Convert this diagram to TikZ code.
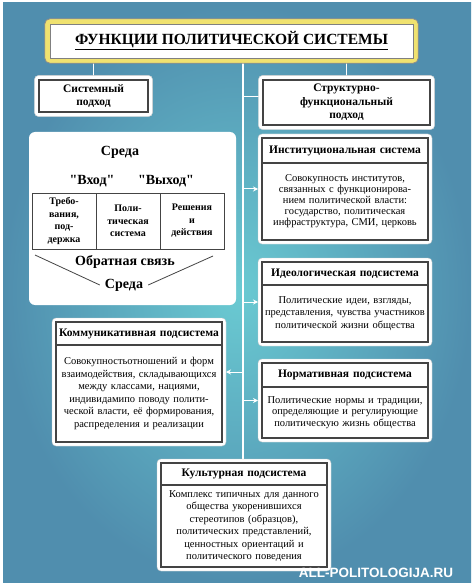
\documentclass[tikz,border=0pt]{standalone}
\usepackage{fontspec}
\setmainfont{Liberation Serif}[Ligatures=TeXOff]
\newfontfamily\sitefont{Liberation Sans}
\usetikzlibrary{positioning,arrows.meta,backgrounds,calc}

\definecolor{fondoclaro}{RGB}{106,202,210}
\definecolor{fondooscuro}{RGB}{80,142,174}
\definecolor{amarillo}{RGB}{240,226,112}
\definecolor{borde}{RGB}{68,68,68}

\begin{document}
\begin{tikzpicture}[x=1pt, y=-1pt]

% Tamaño del dibujo
\useasboundingbox (0,0) rectangle (474,585);

% Estilos de cajas y textos
\tikzstyle{titulo}=[draw=black!50, fill=white, minimum width=363pt, minimum height=34pt, font=\bfseries\fontsize{15.5}{18}\selectfont]
\tikzstyle{enfoque}=[draw=borde, line width=1.1pt, fill=white, align=center, font=\bfseries\fontsize{11.5}{13.5}\selectfont]
\tikzstyle{cabeza}=[draw=borde, line width=1.1pt, fill=white, outer sep=0pt, inner xsep=3pt, text width=160pt, align=center, font=\bfseries\fontsize{11.5}{13}\selectfont]
\tikzstyle{cuerpo}=[cabeza, font=\fontsize{10.5}{12.2}\selectfont]
\tikzstyle{panel}=[fill=white, rounded corners=6pt, minimum width=207pt, minimum height=173pt]
\tikzstyle{celda}=[draw=borde, line width=0.9pt, outer sep=0pt, minimum width=64pt, minimum height=56pt, align=center, font=\bfseries\fontsize{10}{12.5}\selectfont]
\tikzstyle{grande}=[font=\bfseries\fontsize{14}{16}\selectfont]

% Estilos de líneas y marcos blancos
\tikzstyle{halo}=[fill=white, draw=black!20, rounded corners=4pt]
\tikzstyle{enlace}=[draw=white, line width=1.6pt]
\tikzstyle{flecha}=[draw=white, line width=1pt, -{Stealth[length=5pt, width=5pt]}, shorten >=4pt]
\tikzstyle{trazo}=[draw=borde, line width=0.8pt]

% Título y enfoques
\node[titulo] (titulo) at (231.5,41) {\underline{ФУНКЦИИ ПОЛИТИЧЕСКОЙ СИСТЕМЫ}};
\node[enfoque, minimum width=109pt, minimum height=32pt] (sist) at (93.5,96) {Системный\\подход};
\node[enfoque, minimum width=167pt, minimum height=45pt] (strukt) at (346.5,102.5) {Структурно-\\функциональный\\подход};
\coordinate (eje) at (243,63);

% Системный подход: среда, вход и выход
\node[panel] (panel) at (132.5,218.5) {};
\node[grande] (sreda1) at (120,152) {Среда};
\node[grande] (vhod) at (92,181) {"Вход"};
\node[grande] (vyhod) at (166,181) {"Выход"};
\node[celda] (treb) at (64,221) {Требо-\\вания,\\под-\\держка};
\node[celda, right=0pt of treb] (polsys) {Поли-\\тическая\\система};
\node[celda, right=0pt of polsys] (resh) {Решения\\и\\действия};
\node[grande] (obr) at (125,262) {Обратная связь};
\node[grande, inner xsep=5pt] (sreda2) at (124,285) {Среда};
\coordinate (obr-l) at (35,255);
\coordinate (obr-r) at (213,256);
\draw[trazo] (obr-l) -- (sreda2.west);
\draw[trazo] (sreda2.east) -- (obr-r);

% Подсистемы справа
\node[cabeza, minimum height=25pt] (inst-h) at (345,150.5) {Институциональная система};
\node[cuerpo, minimum height=77pt, below=0pt of inst-h, font=\fontsize{10.5}{11}\selectfont] (inst-b) {Совокупность институтов,\\связанных с функционирова-\\нием политической власти:\\государство, политическая\\инфраструктура, СМИ, церковь};

\node[cabeza, minimum height=23pt] (ideo-h) at (345,273.5) {Идеологическая подсистема};
\node[cuerpo, minimum height=57pt, below=0pt of ideo-h] (ideo-b) {Политические идеи, взгляды,\\представления, чувства участников\\политической жизни общества};

\node[cabeza, minimum height=24pt] (norm-h) at (345,375) {Нормативная подсистема};
\node[cuerpo, minimum height=51pt, below=0pt of norm-h, font=\fontsize{10.5}{11.2}\selectfont] (norm-b) {Политические нормы и традиции,\\определяющие и регулирующие\\политическую жизнь общества};

% Подсистемы слева и внизу
\node[cabeza, minimum height=23pt] (kom-h) at (139,333.5) {Коммуникативная подсистема};
\node[cuerpo, minimum height=97pt, below=0pt of kom-h, font=\fontsize{10.5}{12.6}\selectfont] (kom-b) {Совокупностьотношений и форм\\взаимодействия, складывающихся\\между классами, нациями,\\индивидамипо поводу полити-\\ческой власти, её формирования,\\распределения и реализации};

\node[cabeza, minimum height=22pt] (cult-h) at (244,474) {Культурная подсистема};
\node[cuerpo, minimum height=82pt, below=0pt of cult-h, font=\fontsize{10.5}{12.4}\selectfont] (cult-b) {Комплекс типичных для данного\\общества укоренившихся\\стереотипов (образцов),\\политических представлений,\\ценностных ориентаций и\\политического поведения};

\node[font=\sitefont\bfseries\fontsize{13.5}{15}\selectfont, text=white] (sitio) at (376,573) {ALL-POLITOLOGIJA.RU};

% Entradas de las flechas
\path (inst-h.north west) -- (inst-b.south west) coordinate[midway] (inst-in);
\path (ideo-h.north west) -- (ideo-b.south west) coordinate[midway] (ideo-in);
\path (norm-h.north west) -- (norm-b.south west) coordinate[midway] (norm-in);
\coordinate (kom-in) at ($(kom-b.north east)+(0,27)$);
\coordinate (strukt-in) at ($(strukt.west)+(0,-6)$);

\begin{scope}[on background layer]
% Fondo
\shade[inner color=fondoclaro, outer color=fondooscuro] (3,3) rectangle (471,582);

% Líneas y flechas
\draw[enlace] (titulo.south -| eje) -- (cult-h.north -| eje);
\draw[enlace] (titulo.south -| sist.north) -- (sist.north);
\draw[enlace] (titulo.south -| strukt.north) -- (strukt.north);
\draw[enlace] (strukt-in -| eje) -- (strukt-in);
\draw[flecha] (inst-in -| eje) -- (inst-in);
\draw[flecha] (ideo-in -| eje) -- (ideo-in);
\draw[flecha] (norm-in -| eje) -- (norm-in);
\draw[flecha] (kom-in -| eje) -- (kom-in);

% Marco amarillo del título y marcos blancos
\path[fill=amarillo, draw=black!45, line width=0.8pt, rounded corners=5pt] ($(titulo.north west)+(-5,-5)$) rectangle ($(titulo.south east)+(5,5)$);
\path[halo] ($(sist.north west)+(-4,-4)$) rectangle ($(sist.south east)+(4,4)$);
\path[halo] ($(strukt.north west)+(-4,-4)$) rectangle ($(strukt.south east)+(4,4)$);
\path[halo] ($(inst-h.north west)+(-4,-4)$) rectangle ($(inst-b.south east)+(4,4)$);
\path[halo] ($(ideo-h.north west)+(-4,-4)$) rectangle ($(ideo-b.south east)+(4,4)$);
\path[halo] ($(norm-h.north west)+(-4,-4)$) rectangle ($(norm-b.south east)+(4,4)$);
\path[halo] ($(kom-h.north west)+(-4,-4)$) rectangle ($(kom-b.south east)+(4,4)$);
\path[halo] ($(cult-h.north west)+(-4,-4)$) rectangle ($(cult-b.south east)+(4,4)$);
\end{scope}

\end{tikzpicture}
\end{document}
